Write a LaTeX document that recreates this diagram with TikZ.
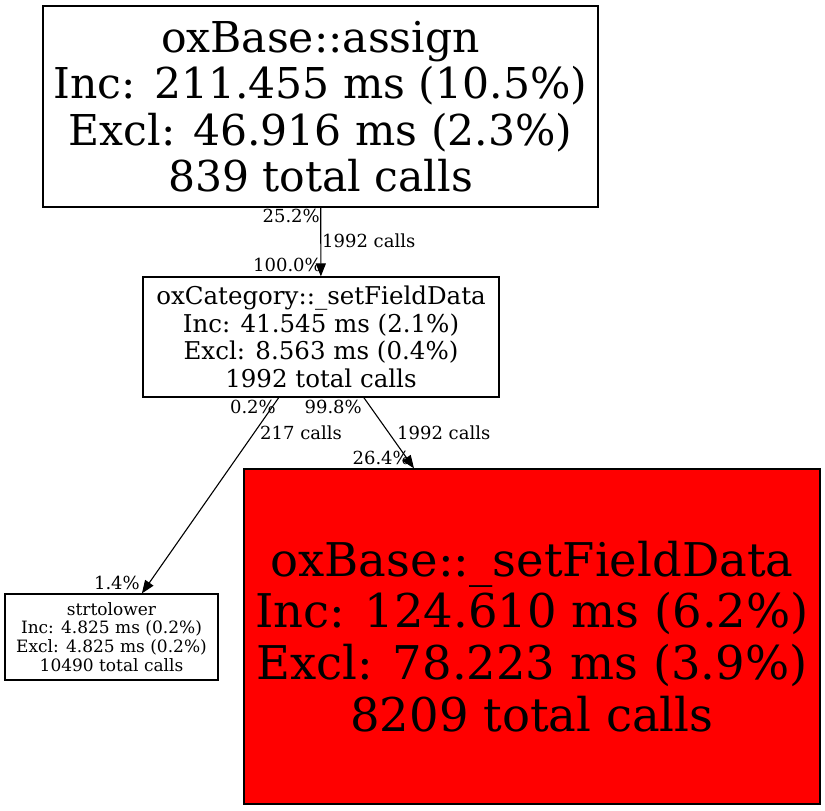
\documentclass[tikz,border=0pt]{standalone}
\usepackage{fontspec}
\setmainfont{DejaVu Serif}
\usetikzlibrary{arrows.meta}
\tikzset{
  fn/.style={draw, align=center, inner sep=0pt, line width=1.2pt},
  call/.style={-{Triangle[length=13pt,width=10pt]}, line width=1.1pt},
  lbl/.style={font=\fontsize{18}{20}\selectfont, inner sep=0pt},
}

\begin{document}
\begin{tikzpicture}[x=1pt,y=-1pt]
    \useasboundingbox (0,0) rectangle (825,811);
    \node[fn, minimum width=555pt, minimum height=201pt,
      font=\fontsize{42.5}{46.5}\selectfont] (assign) at (320.5,106.5)
      {oxBase::assign\\Inc: 211.455 ms (10.5\%)\\Excl: 46.916 ms (2.3\%)\\839 total calls};
    \node[fn, minimum width=356pt, minimum height=120pt,
      font=\fontsize{24.5}{27.5}\selectfont] (catset) at (321,337)
      {oxCategory::\_setFieldData\\Inc: 41.545 ms (2.1\%)\\Excl: 8.563 ms (0.4\%)\\1992 total calls};
    \node[fn, minimum width=213pt, minimum height=86pt,
      font=\fontsize{17}{18.7}\selectfont] (lower) at (111.5,637)
      {strtolower\\Inc: 4.825 ms (0.2\%)\\Excl: 4.825 ms (0.2\%)\\10490 total calls};
    \node[fn, fill=red, minimum width=576pt, minimum height=335pt,
      font=\fontsize{46.5}{51.7}\selectfont] (baseset) at (532,636.5)
      {oxBase::\_setFieldData\\Inc: 124.610 ms (6.2\%)\\Excl: 78.223 ms (3.9\%)\\8209 total calls};
    % calls
    \draw[call] (assign) -- (catset);
    \draw[call] (catset) -- (lower);
    \draw[call] (catset) -- (baseset);
    % edge labels
    \node[lbl, anchor=west] (c1) at (322,241) {1992 calls};
    \node[lbl, anchor=east] (t1) at (320,216) {25.2\%};
    \node[lbl, anchor=east] (h1) at (322,265) {100.0\%};
    \node[lbl, anchor=west] (c2) at (260,433) {217 calls};
    \node[lbl, anchor=east] (t2) at (276,407) {0.2\%};
    \node[lbl, anchor=east] (h2) at (140,583) {1.4\%};
    \node[lbl, anchor=west] (c3) at (397,433) {1992 calls};
    \node[lbl, anchor=east] (t3) at (362,407) {99.8\%};
    \node[lbl, anchor=east] (h3) at (410,458) {26.4\%};
\end{tikzpicture}
\end{document}
